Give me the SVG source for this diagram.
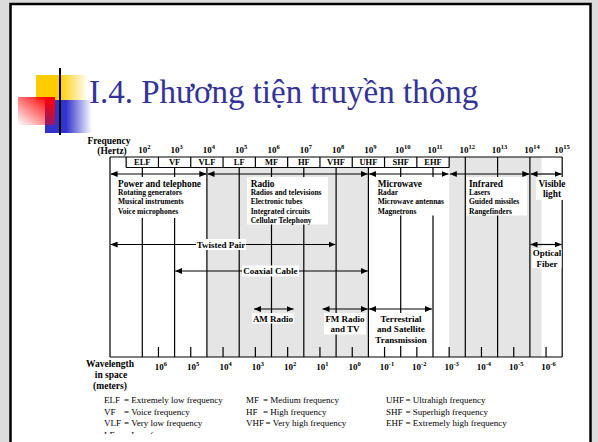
<svg xmlns="http://www.w3.org/2000/svg" width="598" height="442" viewBox="0 0 598 442">
<defs>
<linearGradient id="gU" x1="0" y1="0" x2="1" y2="0"><stop offset="0" stop-color="#111"/><stop offset="0.45" stop-color="#666"/><stop offset="1" stop-color="#fff"/></linearGradient>
<linearGradient id="gY" x1="0" y1="0" x2="1" y2="0"><stop offset="0.45" stop-color="#FFCC00"/><stop offset="1" stop-color="#FFCC00" stop-opacity="0"/></linearGradient>
<linearGradient id="gR" x1="1" y1="0" x2="0" y2="1"><stop offset="0.1" stop-color="#FF0000"/><stop offset="1" stop-color="#FF0000" stop-opacity="0"/></linearGradient>
<linearGradient id="gB" x1="0" y1="0" x2="1" y2="0"><stop offset="0.45" stop-color="#3333CC"/><stop offset="1" stop-color="#3333CC" stop-opacity="0"/></linearGradient>
<marker id="ah" viewBox="0 0 7 6" refX="7" refY="3" markerWidth="7" markerHeight="6" markerUnits="userSpaceOnUse" orient="auto-start-reverse"><path d="M0,0 L7,3 L0,6 z" fill="#000"/></marker>
<clipPath id="cl"><rect x="90" y="420" width="300" height="14"/></clipPath>
</defs>
<style>
.fr{stroke:#000;stroke-width:1.2;fill:none}
.cn{stroke:#000;stroke-width:1.2;fill:none;marker-start:url(#ah);marker-end:url(#ah)}
.gr{fill:#e5e5e5}
.wb{fill:#fff}
text{font-family:"Liberation Serif","Times New Roman",serif;fill:#000}
.b{font-weight:bold}
.ax{font-weight:bold;font-size:9px;text-anchor:middle}
.bd{font-weight:bold;font-size:8.5px;text-anchor:middle}
.hd{font-weight:bold;font-size:9.3px}
.sb{font-weight:bold;font-size:7.5px}
.lb{font-weight:bold;font-size:9px;text-anchor:middle}
.lg{font-size:9px}
.sp{font-size:6.5px}
</style>
<rect x="0" y="0" width="598" height="442" fill="#dcdcdc"/>
<rect x="10.5" y="4" width="580" height="450" fill="#fff" stroke="#000" stroke-width="2.5"/>
<g id="logo">
<rect x="36" y="75" width="52" height="25" fill="url(#gY)"/>
<rect x="45" y="100" width="47" height="33" fill="url(#gB)"/>
<rect x="18" y="97" width="37" height="28" fill="url(#gR)"/>
<line x1="60" y1="68" x2="60" y2="135" stroke="#000" stroke-width="2"/>
<line x1="38" y1="119.5" x2="565" y2="119.5" stroke="url(#gU)" stroke-width="2"/>
</g>
<text id="title" x="89" y="102.5" font-size="33" style="fill:#333399">I.4. Phương tiện truyền thông</text>
<g id="shading">
<rect class="gr" x="206.9" y="167.5" width="161.5" height="189.5"/>
<rect class="gr" x="449.15" y="157" width="92.4" height="200"/>
</g>
<g id="frame">
<path class="fr" d="M110,157H562.2M110,157V357M110,357H562.2M126.15,167.5H449.15
M126.15,157V167.5M158.45,157V167.5M190.75,157V167.5M223.05,157V167.5M255.35,157V167.5M287.65,157V167.5M319.95,157V167.5M352.25,157V167.5M384.55,157V167.5M416.85,157V167.5M449.15,157V167.5
M142.3,167.5V357M174.6,167.5V357M206.9,167.5V357M239.2,167.5V357M271.5,167.5V357M303.8,167.5V357M336.1,167.5V357M368.4,167.5V357M400.7,167.5V357M433,167.5V357
M465.3,157V357M497.6,157V357M529.9,157V357M562.2,157V357
M158.45,347V357M190.75,347V357M223.05,347V357M255.35,347V357M287.65,347V357M319.95,347V357M352.25,347V357M384.55,347V357M416.85,347V357M449.15,347V357M481.45,347V357M513.75,347V357M546.05,347V357"/>
</g>
<g id="axis-frequency">
<text class="b" x="109" y="143.5" font-size="9.5" text-anchor="middle">Frequency</text>
<text class="b" x="112" y="153.5" font-size="9.5" text-anchor="middle">(Hertz)</text>
<text class="ax" x="144.3" y="153">10<tspan class="sp" dy="-3.8">2</tspan></text>
<text class="ax" x="176.6" y="153">10<tspan class="sp" dy="-3.8">3</tspan></text>
<text class="ax" x="208.9" y="153">10<tspan class="sp" dy="-3.8">4</tspan></text>
<text class="ax" x="241.2" y="153">10<tspan class="sp" dy="-3.8">5</tspan></text>
<text class="ax" x="273.5" y="153">10<tspan class="sp" dy="-3.8">6</tspan></text>
<text class="ax" x="305.8" y="153">10<tspan class="sp" dy="-3.8">7</tspan></text>
<text class="ax" x="338.1" y="153">10<tspan class="sp" dy="-3.8">8</tspan></text>
<text class="ax" x="370.4" y="153">10<tspan class="sp" dy="-3.8">9</tspan></text>
<text class="ax" x="402.7" y="153">10<tspan class="sp" dy="-3.8">10</tspan></text>
<text class="ax" x="435" y="153">10<tspan class="sp" dy="-3.8">11</tspan></text>
<text class="ax" x="467.3" y="153">10<tspan class="sp" dy="-3.8">12</tspan></text>
<text class="ax" x="499.6" y="153">10<tspan class="sp" dy="-3.8">13</tspan></text>
<text class="ax" x="531.9" y="153">10<tspan class="sp" dy="-3.8">14</tspan></text>
<text class="ax" x="562" y="153">10<tspan class="sp" dy="-3.8">15</tspan></text>
</g>
<g id="bands">
<text class="bd" x="142.3" y="165">ELF</text>
<text class="bd" x="174.6" y="165">VF</text>
<text class="bd" x="206.9" y="165">VLF</text>
<text class="bd" x="239.2" y="165">LF</text>
<text class="bd" x="271.5" y="165">MF</text>
<text class="bd" x="303.8" y="165">HF</text>
<text class="bd" x="336.1" y="165">VHF</text>
<text class="bd" x="368.4" y="165">UHF</text>
<text class="bd" x="400.7" y="165">SHF</text>
<text class="bd" x="433" y="165">EHF</text>
</g>
<g id="connectors">
<path class="cn" d="M110.6,174H206.3"/>
<path class="cn" d="M207.5,174H367.8"/>
<path class="cn" d="M369,174H448.5"/>
<path class="cn" d="M449.8,174H529.3"/>
<path class="cn" d="M530.5,174H561.6"/>
<path class="cn" d="M110.6,244.5H335.5"/>
<path class="cn" d="M175.2,271H367.8"/>
<path class="cn" d="M530.5,244.5H561.6"/>
<path class="cn" d="M254,309H293.5"/>
<path class="cn" d="M322.5,309H367.8"/>
<path class="cn" d="M369,309H432"/>
</g>
<g id="power">
<rect class="wb" x="114" y="177" width="91" height="41"/>
<text class="hd" x="118" y="186.5">Power and telephone</text>
<text class="sb" x="118" y="194.8">Rotating generators</text>
<text class="sb" x="118" y="204.2">Musical instruments</text>
<text class="sb" x="118" y="213.5">Voice microphones</text>
</g>
<g id="radio">
<rect class="wb" x="247" y="177" width="81" height="47.5"/>
<text class="hd" x="250.7" y="186.5">Radio</text>
<text class="sb" x="250.7" y="194.8">Radios and televisions</text>
<text class="sb" x="250.7" y="204.2">Electronic tubes</text>
<text class="sb" x="250.7" y="213.5">Integrated circuits</text>
<text class="sb" x="250.7" y="222.8">Cellular Telephony</text>
</g>
<g id="microwave">
<rect class="wb" x="373" y="177" width="76" height="38.5"/>
<text class="hd" x="377.7" y="186.5">Microwave</text>
<text class="sb" x="377.7" y="194.8">Radar</text>
<text class="sb" x="377.7" y="204.2">Microwave antennas</text>
<text class="sb" x="377.7" y="213.5">Magnetrons</text>
</g>
<g id="infrared">
<rect class="wb" x="466.5" y="177" width="60.5" height="38.5"/>
<text class="hd" x="469" y="186.5">Infrared</text>
<text class="sb" x="469" y="194.8">Lasers</text>
<text class="sb" x="469" y="204.2">Guided missiles</text>
<text class="sb" x="469" y="213.5">Rangefinders</text>
</g>
<g id="visible">
<rect class="wb" x="536" y="177" width="32" height="23"/>
<text class="hd" x="552" y="186.5" text-anchor="middle">Visible</text>
<text class="hd" x="552" y="196.5" text-anchor="middle">light</text>
</g>
<g id="twisted">
<rect class="wb" x="196" y="239" width="50" height="11"/>
<text class="lb" x="221" y="247.5">Twisted Pair</text>
</g>
<g id="coaxial">
<rect class="wb" x="242" y="265.5" width="57" height="11"/>
<text class="lb" x="270.5" y="274">Coaxial Cable</text>
</g>
<g id="optical">
<rect class="wb" x="532" y="248" width="29.5" height="20"/>
<text class="lb" x="547" y="256">Optical</text>
<text class="lb" x="547" y="266.5">Fiber</text>
</g>
<g id="am">
<rect class="wb" x="252" y="313" width="42" height="10.5"/>
<text class="lb" x="273" y="321.5">AM Radio</text>
</g>
<g id="fm">
<rect class="wb" x="324" y="313" width="42" height="21.5"/>
<text class="lb" x="345" y="321.5">FM Radio</text>
<text class="lb" x="345" y="332">and TV</text>
</g>
<g id="terrestrial">
<rect class="wb" x="374" y="313" width="54" height="33"/>
<text class="lb" x="401" y="321.5">Terrestrial</text>
<text class="lb" x="401" y="332">and Satellite</text>
<text class="lb" x="401" y="343">Transmission</text>
</g>
<g id="axis-wavelength">
<text class="b" x="110" y="366.5" font-size="9.5" text-anchor="middle">Wavelength</text>
<text class="b" x="111" y="378" font-size="9.5" text-anchor="middle">in space</text>
<text class="b" x="110" y="389" font-size="9.5" text-anchor="middle">(meters)</text>
<text class="ax" x="160.9" y="369.5">10<tspan class="sp" dy="-3.8">6</tspan></text>
<text class="ax" x="193.2" y="369.5">10<tspan class="sp" dy="-3.8">5</tspan></text>
<text class="ax" x="225.5" y="369.5">10<tspan class="sp" dy="-3.8">4</tspan></text>
<text class="ax" x="257.8" y="369.5">10<tspan class="sp" dy="-3.8">3</tspan></text>
<text class="ax" x="290.1" y="369.5">10<tspan class="sp" dy="-3.8">2</tspan></text>
<text class="ax" x="322.4" y="369.5">10<tspan class="sp" dy="-3.8">1</tspan></text>
<text class="ax" x="354.7" y="369.5">10<tspan class="sp" dy="-3.8">0</tspan></text>
<text class="ax" x="387" y="369.5">10<tspan class="sp" dy="-3.8">-1</tspan></text>
<text class="ax" x="419.3" y="369.5">10<tspan class="sp" dy="-3.8">-2</tspan></text>
<text class="ax" x="451.6" y="369.5">10<tspan class="sp" dy="-3.8">-3</tspan></text>
<text class="ax" x="483.9" y="369.5">10<tspan class="sp" dy="-3.8">-4</tspan></text>
<text class="ax" x="516.2" y="369.5">10<tspan class="sp" dy="-3.8">-5</tspan></text>
<text class="ax" x="548.5" y="369.5">10<tspan class="sp" dy="-3.8">-6</tspan></text>
</g>
<g id="legend">
<text class="lg" x="104" y="403">ELF</text><text class="lg" x="124" y="403">= Extremely low frequency</text>
<text class="lg" x="104" y="414.5">VF</text><text class="lg" x="124" y="414.5">= Voice frequency</text>
<text class="lg" x="104" y="426">VLF</text><text class="lg" x="124" y="426">= Very low frequency</text>
<text class="lg" x="246" y="403">MF</text><text class="lg" x="263" y="403">= Medium frequency</text>
<text class="lg" x="246" y="414.5">HF</text><text class="lg" x="263" y="414.5">= High frequency</text>
<text class="lg" x="246" y="426">VHF</text><text class="lg" x="265.5" y="426">= Very high frequency</text>
<text class="lg" x="386" y="403">UHF</text><text class="lg" x="405.5" y="403">= Ultrahigh frequency</text>
<text class="lg" x="386" y="414.5">SHF</text><text class="lg" x="405.5" y="414.5">= Superhigh frequency</text>
<text class="lg" x="386" y="426">EHF</text><text class="lg" x="405.5" y="426">= Extremely high frequency</text>
<g clip-path="url(#cl)"><text class="lg" x="104" y="437.5">LF</text><text class="lg" x="124" y="437.5">= Low frequency</text></g>
</g>
</svg>
